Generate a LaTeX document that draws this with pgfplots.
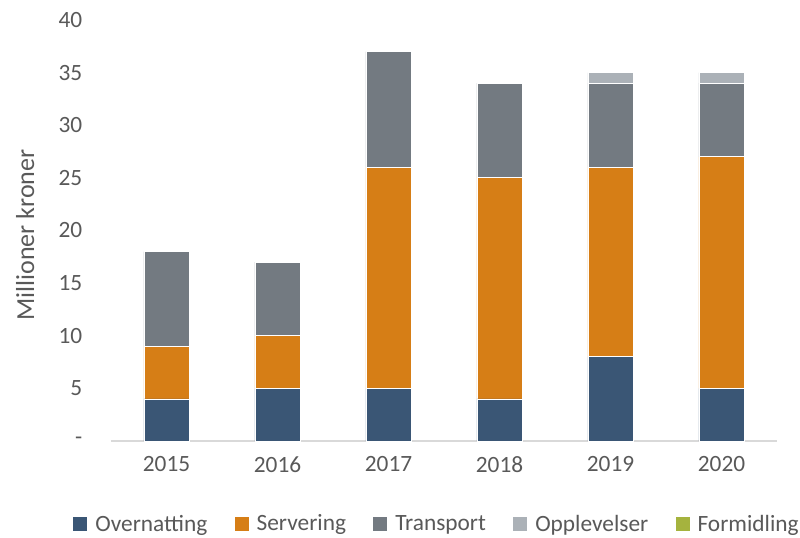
\documentclass[border=0pt]{standalone}
\usepackage{pgfplots}
\pgfplotsset{compat=1.18}
\usepackage{fontspec}
\setmainfont{Carlito}
\definecolor{cOver}{HTML}{3A5675}
\definecolor{cServ}{HTML}{D67E16}
\definecolor{cTrans}{HTML}{737A81}
\definecolor{cOpp}{HTML}{ABB1B7}
\definecolor{cForm}{HTML}{A5B33E}
\definecolor{txt}{HTML}{595959}
\definecolor{axl}{HTML}{D9D9D9}
\begin{document}
\begin{tikzpicture}
\path[use as bounding box] (0,0) rectangle (600pt,402.75pt);
\begin{axis}[
  at={(83.25pt,72pt)}, anchor=south west,
  scale only axis, width=499.5pt, height=315.75pt,
  ybar stacked, bar width=33.75pt,
  xmin=-0.5, xmax=5.5, ymin=0, ymax=40,
  xtick=data, xticklabels={2015,2016,2017,2018,2019,2020},
  ytick={0,5,...,40}, yticklabels={-,5,10,15,20,25,30,35,40},
  major tick length=0,
  axis y line*=left, axis x line*=bottom,
  y axis line style={draw=none},
  x axis line style={draw=axl, line width=1.5pt, -},
  ylabel={Millioner kroner},
  ylabel style={at={(axis description cs:-0.129,0.489)}, anchor=center, rotate=0, font=\fontsize{19.5}{22}\selectfont, text=txt},
  tick label style={font=\fontsize{17.5}{20}\selectfont, text=txt},
  yticklabel style={anchor=east, xshift=-18pt},
  xticklabel style={yshift=-8pt},
  legend columns=5,
  legend style={at={(0.49,-0.197)}, anchor=center, draw=none, font=\fontsize{17.5}{20}\selectfont, text=txt,
    /tikz/every odd column/.append style={column sep=4pt},
    /tikz/every even column/.append style={column sep=18.5pt}},
  legend image code/.code={\fill[#1,draw=none] (0pt,-5.25pt) rectangle (10.5pt,5.25pt);},
  every axis plot/.append style={draw=white, line width=0.6pt},
  clip=false,
]
\addplot[fill=cOver] coordinates {(0,4) (1,5) (2,5) (3,4) (4,8) (5,5)};
\addplot[fill=cServ] coordinates {(0,5) (1,5) (2,21) (3,21) (4,18) (5,22)};
\addplot[fill=cTrans] coordinates {(0,9) (1,7) (2,11) (3,9) (4,8) (5,7)};
\addplot[fill=cOpp] coordinates {(0,0) (1,0) (2,0) (3,0) (4,1) (5,1)};
\addlegendimage{fill=cForm}
\legend{Overnatting,Servering,Transport,Opplevelser,Formidling}
\end{axis}
\end{tikzpicture}
\end{document}
